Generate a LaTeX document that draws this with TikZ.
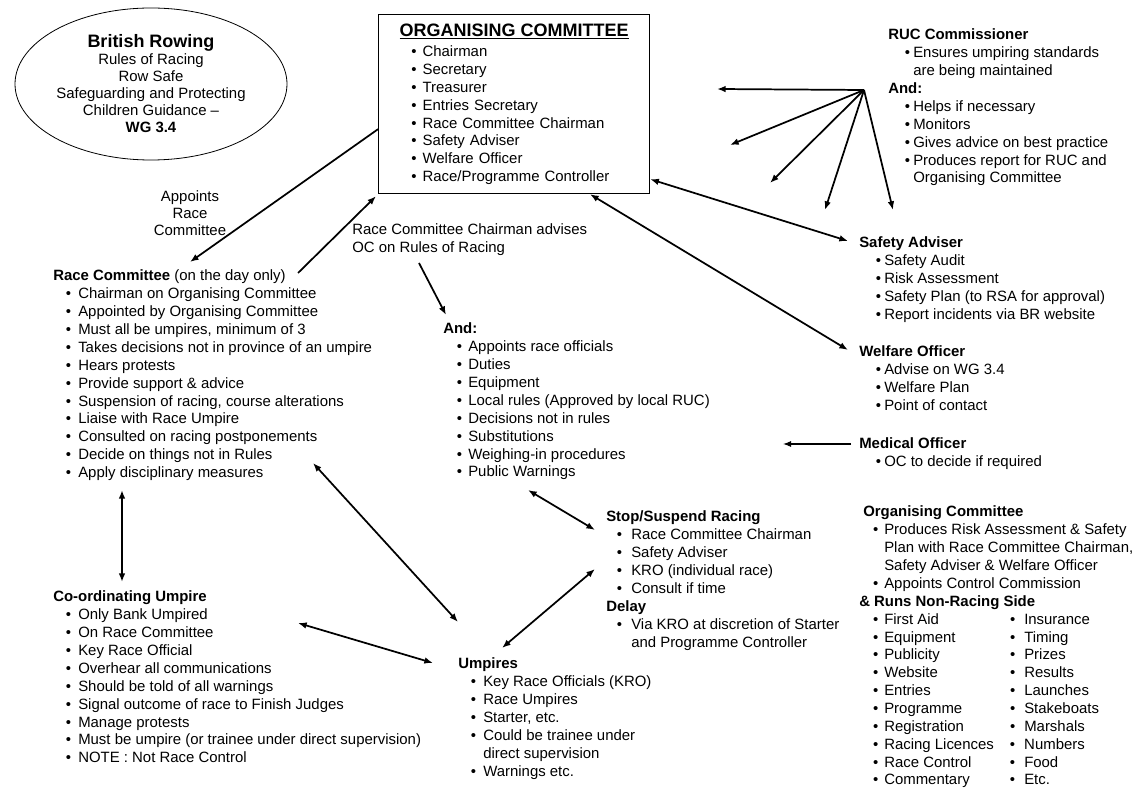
\documentclass[tikz,border=0pt]{standalone}
\usepackage{fontspec}
\setmainfont{Liberation Sans}
\usetikzlibrary{shapes.geometric,arrows.meta,calc}
\newcommand\blt[1][9.5pt]{\hspace*{#1}\makebox[\dimexpr18.75pt-#1\relax][l]{•}}
\newcommand\contl{\hspace*{18.75pt}}
\newcommand\bltb{\hspace*{7.3pt}\makebox[8.45pt][l]{•}}
\newcommand\contb{\hspace*{15.75pt}}
\newcommand\obl{\hspace*{24.5pt}\makebox[8.5pt][l]{•}}
\newcommand\rowb[2]{\bltb\makebox[94.3pt][l]{#1}\makebox[10.7pt][l]{•}#2}
\newcommand\tbl[1]{\begin{tabular}[t]{@{}l@{}}#1\end{tabular}}
\newcommand\tbc[1]{\begin{tabular}[t]{@{}c@{}}#1\end{tabular}}
\begin{document}
\begin{tikzpicture}[x=0.75pt,y=-0.75pt,
  every node/.style={inner sep=0pt},
  blk/.style={anchor=base west, font=\fontsize{11.2}{13.4}\selectfont},
  arr/.style={line width=1.3pt, -{Latex[length=6.5pt,width=5pt]}},
  darr/.style={line width=1.3pt, {Latex[length=6.5pt,width=5pt]}-{Latex[length=6.5pt,width=5pt]}},
  tarr/.style={line width=0.8pt, -{Latex[length=6pt,width=4.5pt]}}]
\useasboundingbox[fill=white] (0,0) rectangle (1133,791);

% British Rowing ellipse
\node[draw, ellipse, line width=0.6pt, minimum width=204pt, minimum height=114pt,
      align=center, font=\fontsize{11.2}{12.75}\selectfont] (br) at (151,84)
 {{\fontsize{13.5}{14}\selectfont\bfseries British Rowing}\\
  Rules of Racing\\ Row Safe\\ Safeguarding and Protecting\\ Children Guidance –\\ \textbf{WG 3.4}};

% Organising committee box
\node[draw, line width=0.9pt, anchor=north west, minimum width=203.25pt, minimum height=134.25pt,
      text width=203.25pt, align=left, font=\fontsize{11.2}{13.4}\selectfont] (oc) at (378,14)
 {\makebox[203.25pt][c]{\fontsize{13.5}{15}\selectfont\bfseries\underline{ORGANISING COMMITTEE}}\\[2pt]
  \obl Chairman\\ \obl Secretary\\ \obl Treasurer\\ \obl Entries Secretary\\
  \obl Race Committee Chairman\\ \obl Safety Adviser\\ \obl Welfare Officer\\
  \obl Race/Programme Controller};

% labels
\node[anchor=base, font=\fontsize{11.2}{12.5}\selectfont] (lbl1) at (190,202)
 {\tbc{Appoints\\ Race\\ Committee}};
\node[blk] (lbl2) at (352,235) {\tbl{Race Committee Chairman advises\\ OC on Rules of Racing}};

% Race Committee
\node[blk] (rc) at (53,281)
 {\tbl{\textbf{Race Committee} (on the day only)\\
  \blt Chairman on Organising Committee\\
  \blt Appointed by Organising Committee\\
  \blt Must all be umpires, minimum of 3\\
  \blt Takes decisions not in province of an umpire\\
  \blt Hears protests\\
  \blt Provide support \& advice\\
  \blt Suspension of racing, course alterations\\
  \blt Liaise with Race Umpire\\
  \blt Consulted on racing postponements\\
  \blt Decide on things not in Rules\\
  \blt Apply disciplinary measures}};

% And:
\node[blk] (andb) at (443,334)
 {\tbl{\textbf{And:}\\
  \blt[10.2pt]Appoints race officials\\
  \blt[10.2pt]Duties\\
  \blt[10.2pt]Equipment\\
  \blt[10.2pt]Local rules (Approved by local RUC)\\
  \blt[10.2pt]Decisions not in rules\\
  \blt[10.2pt]Substitutions\\
  \blt[10.2pt]Weighing-in procedures\\
  \blt[10.2pt]Public Warnings}};

% Co-ordinating Umpire
\node[blk] (cu) at (53,602)
 {\tbl{\textbf{Co-ordinating Umpire}\\
  \blt Only Bank Umpired\\
  \blt On Race Committee\\
  \blt Key Race Official\\
  \blt Overhear all communications\\
  \blt Should be told of all warnings\\
  \blt Signal outcome of race to Finish Judges\\
  \blt Manage protests\\
  \blt Must be umpire (or trainee under direct supervision)\\
  \blt NOTE : Not Race Control}};

% Stop/Suspend
\node[blk] (stop) at (606,522)
 {\tbl{\textbf{Stop/Suspend Racing}\\
  \blt[8pt]Race Committee Chairman\\
  \blt[8pt]Safety Adviser\\
  \blt[8pt]KRO (individual race)\\
  \blt[8pt]Consult if time\\
  \textbf{Delay}\\
  \blt[8pt]Via KRO at discretion of Starter\\
  \contl and Programme Controller}};

% Umpires
\node[blk] (ump) at (458,669)
 {\tbl{\textbf{Umpires}\\
  \blt Key Race Officials (KRO)\\
  \blt Race Umpires\\
  \blt Starter, etc.\\
  \blt Could be trainee under\\
  \contl direct supervision\\
  \blt Warnings etc.}};

% RUC Commissioner
\node[blk] (ruc) at (888,40)
 {\tbl{\textbf{RUC Commissioner}\\
  \blt[12.5pt]Ensures umpiring standards\\
  \contl are being maintained\\
  \textbf{And:}\\
  \blt[12.5pt]Helps if necessary\\
  \blt[12.5pt]Monitors\\
  \blt[12.5pt]Gives advice on best practice\\
  \blt[12.5pt]Produces report for RUC and\\
  \contl Organising Committee}};

% Safety Adviser
\node[blk] (sa) at (859,248)
 {\tbl{\textbf{Safety Adviser}\\
  \blt[12.5pt]Safety Audit\\
  \blt[12.5pt]Risk Assessment\\
  \blt[12.5pt]Safety Plan (to RSA for approval)\\
  \blt[12.5pt]Report incidents via BR website}};

% Welfare Officer
\node[blk] (wo) at (859,357)
 {\tbl{\textbf{Welfare Officer}\\
  \blt[12.5pt]Advise on WG 3.4\\
  \blt[12.5pt]Welfare Plan\\
  \blt[12.5pt]Point of contact}};

% Medical Officer
\node[blk] (mo) at (859,449)
 {\tbl{\textbf{Medical Officer}\\
  \blt[12.5pt]OC to decide if required}};

% Organising Committee (bottom right)
\node[blk] (oc2) at (863,517)
 {\tbl{\textbf{Organising Committee}\\
  \bltb Produces Risk Assessment \& Safety\\
  \contb Plan with Race Committee Chairman,\\
  \contb Safety Adviser \& Welfare Officer\\
  \bltb Appoints Control Commission\\
  \hspace*{-3pt}\textbf{\& Runs Non-Racing Side}\\
  \rowb{First Aid}{Insurance}\\
  \rowb{Equipment}{Timing}\\
  \rowb{Publicity}{Prizes}\\
  \rowb{Website}{Results}\\
  \rowb{Entries}{Launches}\\
  \rowb{Programme}{Stakeboats}\\
  \rowb{Registration}{Marshals}\\
  \rowb{Racing Licences}{Numbers}\\
  \rowb{Race Control}{Food}\\
  \rowb{Commentary}{Etc.}}};

% RUC fan
\coordinate (hub) at ($(ruc.base west)+(-24,50)$);
\coordinate (e1) at (717,89);
\coordinate (e2) at (730,145);
\coordinate (e3) at (770,183);
\coordinate (e4) at (825,210);
\coordinate (e5) at (893,210);
\foreach \e in {e1,e2,e3,e4,e5} \draw[arr] (hub) -- (\e);

% connectors
\draw[arr] ($(oc.south west)+(0,-65)$) -- ($(rc.base west)+(137,-19)$);
\draw[arr] ($(rc.base west)+(245,-8)$) -- ($(oc.south west)+(-2,2)$);
\draw[arr] ($(lbl2.base west)+(67,28)$) -- ($(andb.base west)+(3,-19)$);
\draw[darr] ($(oc.south east)+(0,-15)$) -- ($(sa.base west)+(-11,-7)$);
\draw[darr] ($(oc.south west)+(212,0)$) -- ($(wo.base west)+(-11,-7)$);
\coordinate (mtip) at (783,444);
\draw[tarr] ($(mo.base west)+(-8,-5)$) -- (mtip);
\draw[darr] ($(rc.base west)+(260,182)$) -- ($(ump.base west)+(0,-47)$);
\draw[darr] ($(andb.base west)+(85,156)$) -- ($(stop.base west)+(-11,8)$);
\draw[darr] ($(ump.base west)+(44,-21)$) -- ($(stop.base west)+(-11,47)$);
\draw[darr] ($(rc.base west)+(69,209)$) -- ($(cu.base west)+(69,-20)$);
\draw[darr] ($(cu.base west)+(245,21)$) -- ($(ump.base west)+(-25,-6)$);
\end{tikzpicture}
\end{document}
